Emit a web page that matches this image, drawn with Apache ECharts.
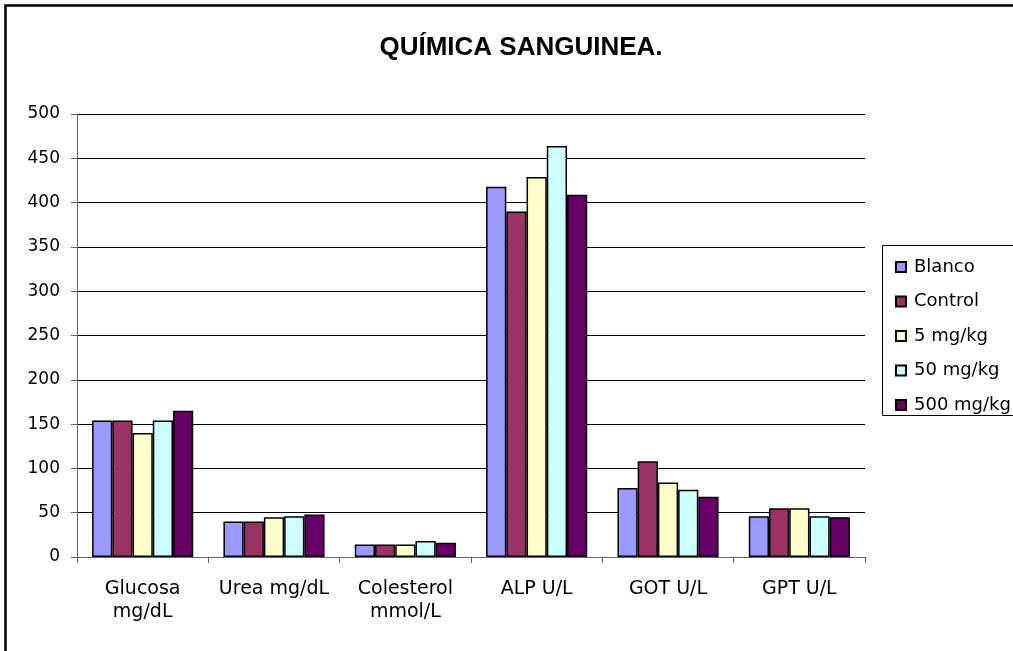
<!DOCTYPE html>
<html>
<head>
<meta charset="utf-8">
<script src="https://cdn.jsdelivr.net/npm/echarts@6/dist/echarts.min.js"></script>
<style>
  html, body { margin: 0; padding: 0; background: #fff; }
  #chart { width: 1013px; height: 651px; }
</style>
</head>
<body>
<div id="chart"></div>
<script>
// data
const categories = ['Glucosa\nmg/dL', 'Urea mg/dL', 'Colesterol\nmmol/L', 'ALP U/L', 'GOT U/L', 'GPT U/L']
const seriesNames = ['Blanco', 'Control', '5 mg/kg', '50 mg/kg', '500 mg/kg']
const blanco = [154, 40, 14, 418, 78, 46]
const control = [154, 40, 14, 390, 108, 55]
const mg5 = [140, 45, 14, 429, 84, 55]
const mg50 = [154, 46, 18, 464, 76, 46]
const mg500 = [165, 48, 16, 409, 68, 45]
const colors = ['#9999FF', '#993366', '#FFFFCC', '#CCFFFF', '#660066']

const values = [blanco, control, mg5, mg50, mg500]
const font = 'DejaVu Sans, sans-serif'

let chart = echarts.init(document.getElementById('chart'))
chart.setOption({
    animation: false,
    backgroundColor: '#fff',
    title: {
        text: 'QUÍMICA SANGUINEA.',
        left: 516,
        textAlign: 'center',
        top: 30,
        textStyle: {fontFamily: 'Liberation Sans, Arial, sans-serif', fontSize: 26, fontWeight: 'bold', color: '#000'}
    },
    graphic: [
        {type: 'rect', shape: {x: 5.5, y: 5.5, width: 1100, height: 700},
            style: {fill: 'none', stroke: '#000', lineWidth: 2.5}, silent: true},
        {type: 'rect', shape: {x: 882.5, y: 245.5, width: 200, height: 170},
            style: {fill: '#fff', stroke: '#000', lineWidth: 1}, silent: true, z: 0}
    ],
    legend: {
        orient: 'vertical',
        left: 890,
        top: 253,
        itemWidth: 10,
        itemHeight: 10,
        itemGap: 16.5,
        icon: 'rect',
        z: 10,
        textStyle: {fontFamily: font, fontSize: 18, color: '#000', padding: [0, 0, 0, 3]},
        data: seriesNames
    },
    grid: {left: 77, right: 148, top: 114, bottom: 94, containLabel: false},
    xAxis: {
        type: 'category',
        data: categories,
        axisLine: {lineStyle: {color: '#666', width: 1}},
        axisTick: {show: true, length: 6, lineStyle: {color: '#666'}},
        axisLabel: {fontFamily: font, fontSize: 19, color: '#000', margin: 21, lineHeight: 23, interval: 0}
    },
    yAxis: {
        type: 'value',
        min: 0,
        max: 500,
        interval: 50,
        axisLine: {show: true, lineStyle: {color: '#666', width: 1}},
        axisTick: {show: true, length: 6, lineStyle: {color: '#666'}},
        axisLabel: {fontFamily: font, fontSize: 17, color: '#000', margin: 17},
        splitLine: {lineStyle: {color: '#000', width: 1}}
    },
    series: seriesNames.map((name, i) => ({
        name: name,
        type: 'bar',
        data: values[i],
        barGap: '0%',
        barCategoryGap: '23%',
        itemStyle: {color: colors[i], borderColor: '#000', borderWidth: 1.5}
    }))
})
</script>
</body>
</html>
